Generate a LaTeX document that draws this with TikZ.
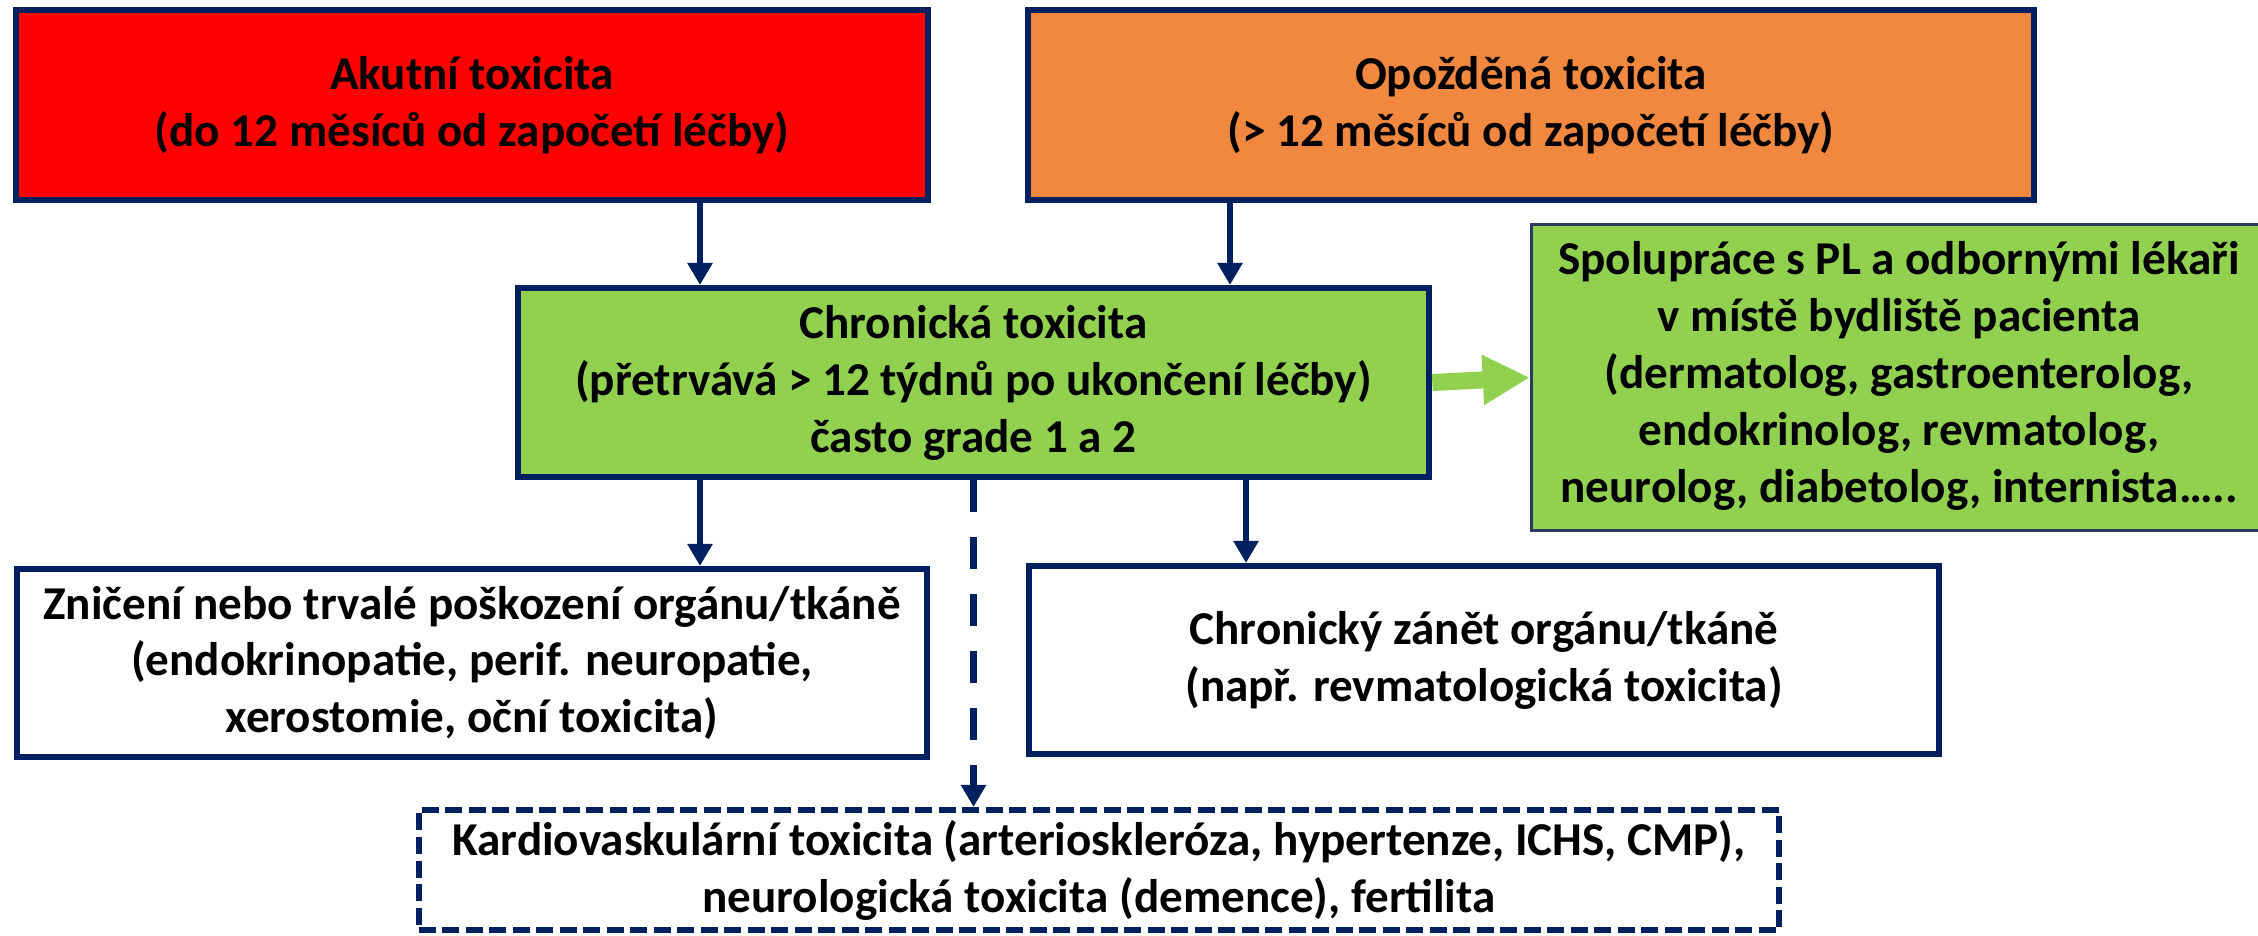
\documentclass[tikz,border=0pt]{standalone}
\usepackage{fontspec}
\setmainfont{Carlito}
\usetikzlibrary{arrows.meta}
\definecolor{navy}{HTML}{002060}
\definecolor{acutered}{HTML}{FF0000}
\definecolor{lateorange}{HTML}{F0883F}
\definecolor{chrongreen}{HTML}{92D050}
\definecolor{thinedge}{HTML}{2B3A5C}
\begin{document}
\begin{tikzpicture}[
  x=0.01cm, y=-0.01cm,
  txt/.style={inner sep=0pt, font=\bfseries\fontsize{13.4pt}{16.2pt}\selectfont},
  box/.style={txt, draw=navy, line width=0.06cm, align=center},
  topbox/.style={box, minimum height=1.9cm},
  lowbox/.style={box, fill=white, minimum width=9.1cm, minimum height=1.88cm},
  dashbox/.style={box, dash pattern=on 0.17cm off 0.065cm, minimum width=13.6cm, minimum height=1.2cm},
  coopbox/.style={txt, draw=thinedge, line width=0.03cm, fill=chrongreen, minimum width=7.7cm, minimum height=3.06cm},
  arr/.style={->, draw=navy, line width=0.065cm},
  >={Triangle[length=0.22cm, width=0.24cm]}
]
\useasboundingbox (0,0) rectangle (2258,935);

\node[topbox, fill=acutered, minimum width=9.12cm] (acute) at (472,105)
  {Akutní toxicita\\(do 12 měsíců od započetí léčby)};
\node[topbox, fill=lateorange, minimum width=10.06cm] (late) at (1531,105)
  {Opožděná toxicita\\(> 12 měsíců od započetí léčby)};
\node[box, fill=chrongreen, minimum width=9.11cm, minimum height=1.89cm] (chronic) at (973.5,382.5)
  {Chronická toxicita\\(přetrvává > 12 týdnů po ukončení léčby)\\často grade 1 a 2};
% presahuje pravy okraj obrazku, text zustava vlevo
\node[coopbox] (coop) at (1916.5,377.5)
  {\begin{tabular}{@{}c@{}}Spolupráce s PL a odbornými lékaři\\v místě bydliště pacienta\\(dermatolog, gastroenterolog,\\endokrinolog, revmatolog,\\neurolog, diabetolog, internista…..\end{tabular}\rule{0.35cm}{0pt}};
\node[lowbox] (damage) at (472,663)
  {Zničení nebo trvalé poškození orgánu/tkáně\\(endokrinopatie, perif. neuropatie,\\xerostomie, oční toxicita)};
\node[lowbox] (inflam) at (1484,660)
  {Chronický zánět orgánu/tkáně\\(např. revmatologická toxicita)};
\node[dashbox] (cardio) at (1099,870)
  {Kardiovaskulární toxicita (arterioskleróza, hypertenze, ICHS, CMP),\\neurologická toxicita (demence), fertilita};

% osy svislých šipek
\coordinate (axL) at (700,0);
\coordinate (axO) at (1230,0);
\coordinate (axR) at (1246,0);

% shora do chronické toxicity
\draw[arr] (acute.south -| axL) -- (chronic.north -| axL);
\draw[arr] (late.south -| axO)  -- (chronic.north -| axO);

% dolů k následkům
\draw[arr] (chronic.south -| axL) -- (damage.north -| axL);
\draw[arr] (chronic.south -| axR) -- (inflam.north -| axR);
\draw[arr, dash pattern=on 0.32cm off 0.25cm] (chronic.south) -- (cardio.north -| chronic.south);

% blokova sipka ke spolupraci
\draw[-{Triangle[length=0.47cm, width=0.47cm]}, chrongreen, line width=0.17cm]
  (chronic.east) -- (coop.west);
\end{tikzpicture}
\end{document}
